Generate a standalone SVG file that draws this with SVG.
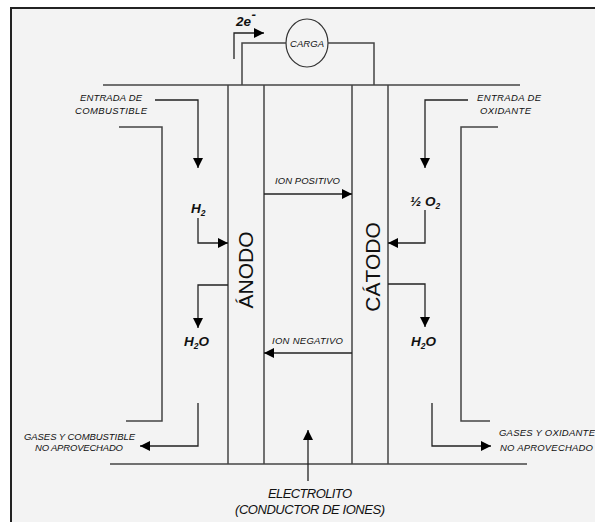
<svg xmlns="http://www.w3.org/2000/svg" width="595" height="522" viewBox="0 0 595 522">
<defs>
<marker id="ah" viewBox="0 0 10 10" refX="10" refY="5" markerWidth="10" markerHeight="10" markerUnits="userSpaceOnUse" orient="auto">
<path d="M0,0 L10,5 L0,10 Z" fill="#000"/>
</marker>
</defs>
<style>
.ln{fill:none;stroke:#444;stroke-width:1.5}
.ar{fill:none;stroke:#222;stroke-width:1.3;marker-end:url(#ah)}
.sm{font-family:"Liberation Sans",Arial,sans-serif;font-style:italic;font-size:9.5px;fill:#111}
.md{font-family:"Liberation Sans",Arial,sans-serif;font-style:italic;font-weight:bold;font-size:13.5px;fill:#111}
.big{font-family:"Liberation Sans",Arial,sans-serif;font-size:21px;fill:#111}
.el{font-family:"Liberation Sans",Arial,sans-serif;font-style:italic;font-size:13px;fill:#111}
</style>
<rect x="0" y="0" width="595" height="522" fill="#fff"/>
<rect x="11" y="8" width="600" height="600" fill="#f3f3f3" stroke="#222" stroke-width="2"/>

<g id="cell">
<line class="ln" x1="103" y1="85" x2="520" y2="85"/>
<line class="ln" x1="110" y1="464" x2="527" y2="464"/>
</g>

<g id="anodo">
<line class="ln" x1="228" y1="85" x2="228" y2="464"/>
<line class="ln" x1="264" y1="85" x2="264" y2="464"/>
<text class="big" transform="translate(253,270) rotate(-90)" text-anchor="middle">ÁNODO</text>
</g>

<g id="catodo">
<line class="ln" x1="352" y1="85" x2="352" y2="464"/>
<line class="ln" x1="388" y1="85" x2="388" y2="464"/>
<text class="big" transform="translate(380,267) rotate(-90)" text-anchor="middle">CÁTODO</text>
</g>

<g id="carga">
<ellipse cx="307" cy="43" rx="21" ry="24" fill="#f3f3f3" stroke="#333" stroke-width="1.2"/>
<text class="sm" x="307" y="46.5" text-anchor="middle" textLength="34">CARGA</text>
</g>

<g id="electron">
<text class="md" x="236" y="26" font-style="normal" font-size="13">2e</text>
<text class="md" x="251.5" y="19" font-size="8" font-style="normal">-</text>
</g>

<g id="labels">
<text class="sm" x="80" y="101" textLength="62">ENTRADA DE</text>
<text class="sm" x="75" y="114" textLength="72">COMBUSTIBLE</text>
<text class="sm" x="477" y="101" textLength="64">ENTRADA DE</text>
<text class="sm" x="480" y="114" textLength="51">OXIDANTE</text>
<text class="md" x="191" y="213">H<tspan font-size="8.5" dy="3">2</tspan></text>
<text class="md" x="184" y="346">H<tspan font-size="8.5" dy="3">2</tspan><tspan dy="-3">O</tspan></text>
<text class="md" x="410" y="206">½ O<tspan font-size="8.5" dy="3">2</tspan></text>
<text class="md" x="411" y="346">H<tspan font-size="8.5" dy="3">2</tspan><tspan dy="-3">O</tspan></text>
<text class="sm" x="275" y="184" textLength="65">ION POSITIVO</text>
<text class="sm" x="272" y="344" textLength="71">ION NEGATIVO</text>
<text class="sm" x="24" y="440" textLength="111">GASES Y COMBUSTIBLE</text>
<text class="sm" x="35" y="451" textLength="88">NO APROVECHADO</text>
<text class="sm" x="499" y="436" textLength="96">GASES Y OXIDANTE</text>
<text class="sm" x="500" y="451" textLength="93">NO APROVECHADO</text>
<text class="el" x="268" y="498" textLength="84">ELECTROLITO</text>
<text class="el" x="235" y="514" textLength="150">(CONDUCTOR DE IONES)</text>
</g>

<g id="connectors">
<polyline class="ln" points="242,85 242,43 286,43"/>
<polyline class="ln" points="328,43 374,43 374,85"/>
<polyline class="ar" points="234,59 234,33 264,33"/>
<polyline class="ar" points="155,100 198,100 198,168"/>
<polyline class="ln" points="119,127 162,127 162,421 126,421"/>
<polyline class="ar" points="198,218 198,243 228,243"/>
<polyline class="ar" points="228,285 198,285 198,328"/>
<polyline class="ar" points="198,403 198,446 140,446"/>
<polyline class="ar" points="468,100 425,100 425,168"/>
<polyline class="ln" points="498,127 461,127 461,421 490,421"/>
<polyline class="ar" points="425,210 425,243 388,243"/>
<polyline class="ar" points="388,284 425,284 425,327"/>
<polyline class="ar" points="432,403 432,446 491,446"/>
<line class="ar" x1="264" y1="194" x2="352" y2="194"/>
<line class="ar" x1="352" y1="353" x2="264" y2="353"/>
<line class="ar" x1="308" y1="481" x2="308" y2="430"/>
</g>
</svg>
